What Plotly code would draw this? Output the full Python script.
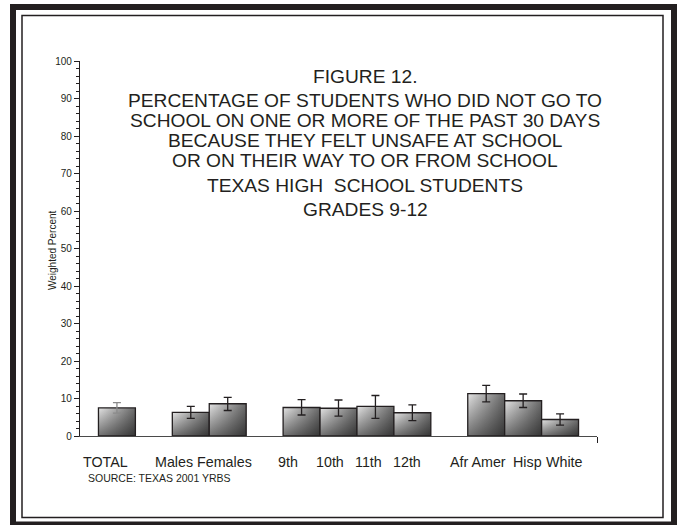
import plotly.graph_objects as go

# ---- data -------------------------------------------------------------
categories = ["TOTAL", "Males", "Females", "9th", "10th", "11th", "12th",
              "Afr Amer", "Hisp", "White"]
percent = [7.5, 6.3, 8.6, 7.6, 7.4, 7.9, 6.2, 11.3, 9.4, 4.4]
ci_low = [6.1, 4.7, 6.8, 5.6, 5.3, 4.7, 4.1, 9.1, 7.6, 2.9]
ci_high = [8.9, 7.9, 10.3, 9.7, 9.6, 10.8, 8.3, 13.5, 11.2, 5.9]
y_ticks = list(range(0, 101, 10))
y_label = "Weighted Percent"

title_lines = [
    "FIGURE 12.",
    "PERCENTAGE OF STUDENTS WHO DID NOT GO TO",
    "SCHOOL ON ONE OR MORE OF THE PAST 30 DAYS",
    "BECAUSE THEY FELT UNSAFE AT SCHOOL",
    "OR ON THEIR WAY TO OR FROM SCHOOL",
    "TEXAS HIGH  SCHOOL STUDENTS",
    "GRADES 9-12",
]
source_note = "SOURCE: TEXAS 2001 YRBS"

# ---- layout helpers ---------------------------------------------------
W, H = 677, 525
ML, MR, MT, MB = 80, 80, 61, 89
PW, PH = W - ML - MR, H - MT - MB

# bar slots on a 0..14 axis (gaps separate the groups)
slot = [1, 3, 4, 6, 7, 8, 9, 11, 12, 13]
# label centres along the axis (labels sit slightly off the bar centres)
label_x = [0.69, 2.55, 3.92, 5.62, 6.78, 7.82, 8.86, 10.78, 12.12, 13.12]
err_color = ["#8a8a8a"] + ["#231f20"] * 9
title_y_px = [76.8, 100.5, 120.2, 140.5, 160.2, 185.2, 209.5]

INK = "#231f20"
FONT = "Liberation Sans, Arial, sans-serif"


def px2x(px):
    return (px - ML) / PW


def py2y(py):
    return (H - MB - py) / PH


fig = go.Figure()

# shaded bars: horizontal light->dark base, darkened towards the bottom
for p, v in zip(slot, percent):
    xs = [p - 0.5, p - 0.5, p + 0.5, p + 0.5, p - 0.5]
    ys = [0, v, v, 0, 0]
    fig.add_trace(go.Scatter(
        x=xs, y=ys, mode="lines", fill="toself",
        fillgradient=dict(type="horizontal",
                          colorscale=[[0, "#e4e4e4"], [1, "#6a6a6a"]]),
        line=dict(width=0), hoverinfo="skip", showlegend=False))
    fig.add_trace(go.Scatter(
        x=xs, y=ys, mode="lines", fill="toself",
        fillgradient=dict(type="vertical",
                          colorscale=[[0, "rgba(0,0,0,0.5)"],
                                      [1, "rgba(0,0,0,0)"]]),
        line=dict(width=1.3, color=INK), hoverinfo="skip", showlegend=False))

# confidence intervals
for p, v, lo, hi, c in zip(slot, percent, ci_low, ci_high, err_color):
    fig.add_trace(go.Scatter(
        x=[p], y=[v], mode="markers",
        marker=dict(size=1, color="rgba(0,0,0,0)"),
        error_y=dict(type="data", symmetric=False, array=[hi - v],
                     arrayminus=[v - lo], width=4, thickness=1.3, color=c),
        hoverinfo="skip", showlegend=False))

annotations = []
for text, ypx in zip(title_lines, title_y_px):
    annotations.append(dict(
        text=text, x=px2x(365), y=py2y(ypx), xref="paper", yref="paper",
        xanchor="center", yanchor="middle", showarrow=False,
        font=dict(size=19.2, color=INK, family=FONT)))

for name, lx in zip(categories, label_x):
    annotations.append(dict(
        text=name, x=lx, y=py2y(461.5), xref="x", yref="paper",
        xanchor="center", yanchor="middle", showarrow=False,
        font=dict(size=14.3, color=INK, family=FONT)))

annotations.append(dict(
    text=source_note, x=px2x(86), y=py2y(477.5), xref="paper", yref="paper",
    xanchor="left", yanchor="middle", showarrow=False,
    font=dict(size=10.5, color=INK, family=FONT)))

# vertical axis caption
annotations.append(dict(
    text=y_label, x=px2x(52), y=py2y(250), xref="paper", yref="paper",
    xanchor="center", yanchor="middle", showarrow=False, textangle=-90,
    font=dict(size=10, color=INK, family=FONT)))

shapes = [
    # heavy outer frame
    dict(type="rect", xref="paper", yref="paper",
         x0=px2x(13), x1=px2x(674), y0=py2y(7), y1=py2y(524.5),
         line=dict(color=INK, width=6)),
    # thin inner frame
    dict(type="rect", xref="paper", yref="paper",
         x0=px2x(22), x1=px2x(663), y0=py2y(15.5), y1=py2y(517.5),
         line=dict(color=INK, width=1.5)),
]

fig.update_layout(
    width=W, height=H,
    margin=dict(l=ML, r=MR, t=MT, b=MB),
    paper_bgcolor="white", plot_bgcolor="white",
    font=dict(family=FONT, color=INK),
    xaxis=dict(range=[0, 14], showgrid=False, zeroline=False,
               showline=True, linecolor="#4a4a4a", linewidth=1.3,
               tickmode="array", tickvals=[14], ticktext=[""],
               ticks="outside", ticklen=6, tickcolor=INK, tickwidth=1,
               showticklabels=False, fixedrange=True),
    yaxis=dict(range=[0, 100], showgrid=False, zeroline=False,
               showline=True, linecolor=INK, linewidth=1.2,
               tickmode="array", tickvals=y_ticks,
               ticks="outside", ticklen=5, tickcolor=INK, tickwidth=1,
               minor=dict(dtick=2, tick0=0, ticks="outside", ticklen=3,
                          tickcolor=INK, tickwidth=1, showgrid=False),
               tickfont=dict(size=10, color=INK, family=FONT),
               fixedrange=True),
    annotations=annotations,
    shapes=shapes,
)

fig.write_html("out.html")
